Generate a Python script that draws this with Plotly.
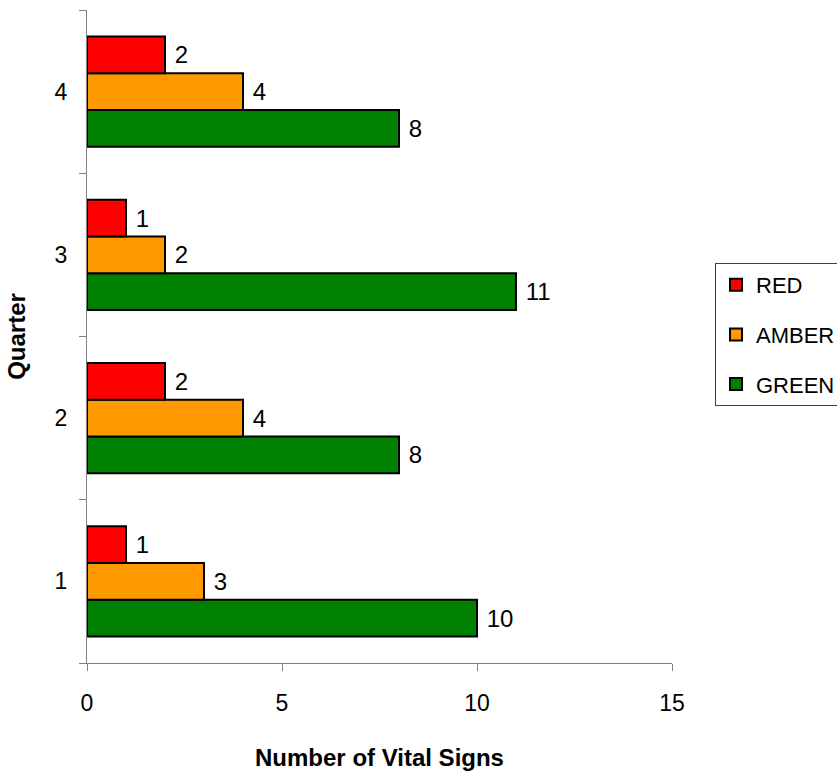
import plotly.graph_objects as go

quarters = ["1", "2", "3", "4"]
red = [1, 2, 1, 2]
amber = [3, 4, 2, 4]
green = [10, 8, 11, 8]

FONT = "Arial, Liberation Sans, sans-serif"

# bottom-to-top order inside each quarter; legendrank lists RED first
series = [
    ("GREEN", green, "#008000", 3),
    ("AMBER", amber, "#FF9900", 2),
    ("RED", red, "#FF0000", 1),
]

fig = go.Figure()
for name, vals, color, rank in series:
    fig.add_trace(go.Bar(
        y=quarters, x=vals, name=name, orientation="h",
        marker=dict(color=color, line=dict(color="black", width=2)),
        text=[f" {v}" for v in vals], textposition="outside",
        textfont=dict(family=FONT, size=24, color="black"),
        cliponaxis=False, legendgroup=name, legendrank=rank,
    ))

fig.update_layout(
    width=837, height=776,
    margin=dict(l=87, r=165, t=10, b=113, autoexpand=False),
    plot_bgcolor="white", paper_bgcolor="white",
    barmode="group", bargap=0.325, bargroupgap=0,
    font=dict(family=FONT, size=24, color="black"),
    showlegend=True,
    legend=dict(
        xref="container", yref="container",
        x=715 / 837, y=(776 - 263) / 776, xanchor="left", yanchor="top",
        traceorder="grouped", tracegroupgap=18,
        bordercolor="#404040", borderwidth=1, bgcolor="white",
        font=dict(family=FONT, size=22, color="black"),
        itemwidth=30,
    ),
    xaxis=dict(
        range=[0, 15], tickvals=[0, 5, 10, 15], ticks="outside", ticklen=7,
        tickcolor="#808080", showline=True, linecolor="#808080", linewidth=1,
        showgrid=False, zeroline=False, ticklabelstandoff=12,
        tickfont=dict(size=23),
        title=dict(text="<b>Number of Vital Signs</b>", font=dict(size=24), standoff=34),
    ),
    yaxis=dict(
        type="category", categoryorder="array", categoryarray=quarters,
        range=[-0.5, 3.5], tickson="boundaries", ticks="outside", ticklen=7,
        tickcolor="#808080", showline=True, linecolor="#808080", linewidth=1,
        showgrid=False, zeroline=False, ticklabelstandoff=14,
        tickfont=dict(size=23),
        title=dict(text="<b>Quarter</b>", font=dict(size=24), standoff=22),
    ),
)

fig.write_html("out.html")
